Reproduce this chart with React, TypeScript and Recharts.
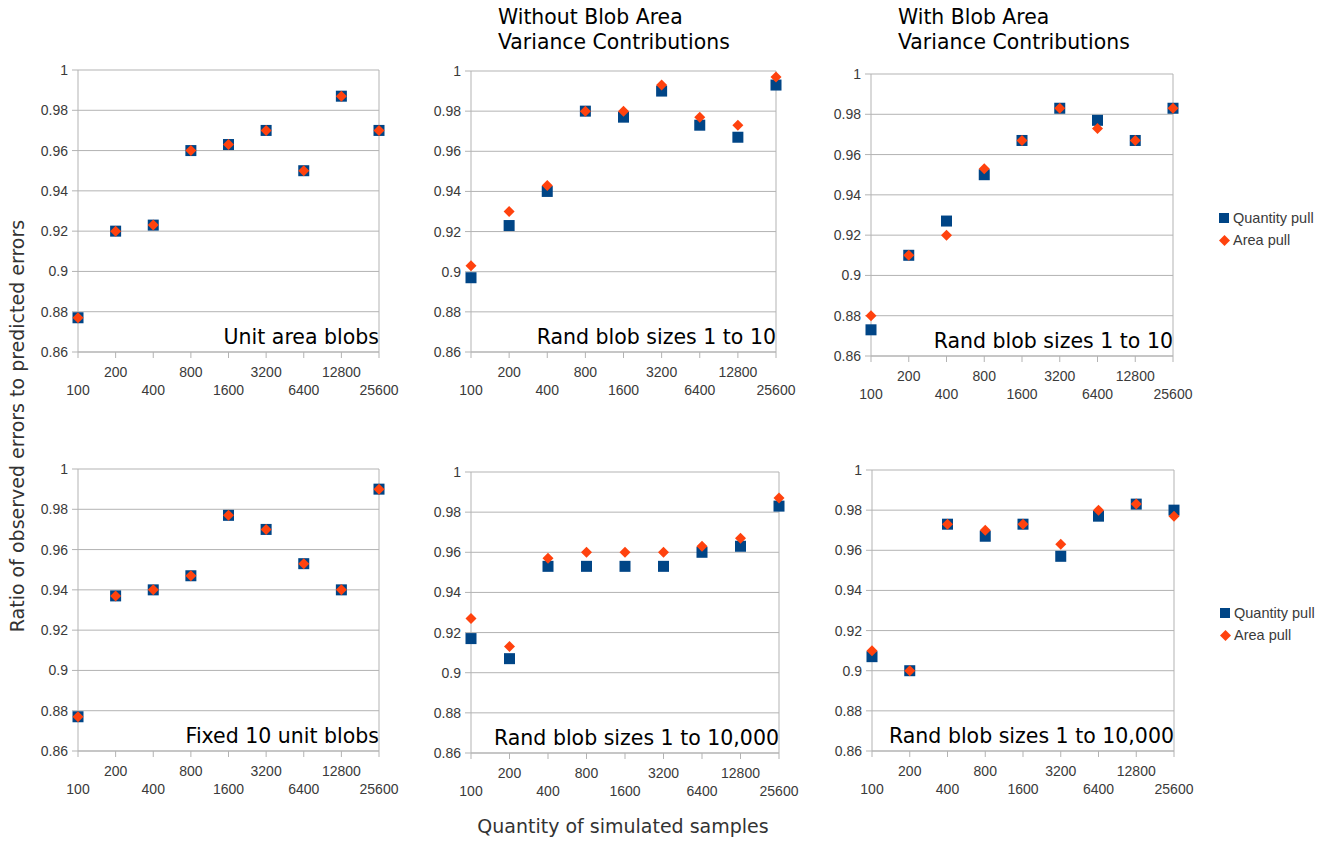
import { ScatterChart, Scatter, XAxis, YAxis, CartesianGrid, ReferenceLine } from "recharts";

const sampleSizes = ["100", "200", "400", "800", "1600", "3200", "6400", "12800", "25600"];
const yTicks = [0.86, 0.88, 0.9, 0.92, 0.94, 0.96, 0.98, 1];

const unitQuantity = [0.877, 0.92, 0.923, 0.96, 0.963, 0.97, 0.95, 0.987, 0.97];
const unitArea = [0.877, 0.92, 0.923, 0.96, 0.963, 0.97, 0.95, 0.987, 0.97];
const fixedQuantity = [0.877, 0.937, 0.94, 0.947, 0.977, 0.97, 0.953, 0.94, 0.99];
const fixedArea = [0.877, 0.937, 0.94, 0.947, 0.977, 0.97, 0.953, 0.94, 0.99];
const rand10NoVarQuantity = [0.897, 0.923, 0.94, 0.98, 0.977, 0.99, 0.973, 0.967, 0.993];
const rand10NoVarArea = [0.903, 0.93, 0.943, 0.98, 0.98, 0.993, 0.977, 0.973, 0.997];
const rand10VarQuantity = [0.873, 0.91, 0.927, 0.95, 0.967, 0.983, 0.977, 0.967, 0.983];
const rand10VarArea = [0.88, 0.91, 0.92, 0.953, 0.967, 0.983, 0.973, 0.967, 0.983];
const rand10kNoVarQuantity = [0.917, 0.907, 0.953, 0.953, 0.953, 0.953, 0.96, 0.963, 0.983];
const rand10kNoVarArea = [0.927, 0.913, 0.957, 0.96, 0.96, 0.96, 0.963, 0.967, 0.987];
const rand10kVarQuantity = [0.907, 0.9, 0.973, 0.967, 0.973, 0.957, 0.977, 0.983, 0.98];
const rand10kVarArea = [0.91, 0.9, 0.973, 0.97, 0.973, 0.963, 0.98, 0.983, 0.977];

const BLUE = "#004586";
const ORANGE = "#ff420e";
const GRID = "#b3b3b3";
const TICK_FONT = "'Liberation Sans', Arial, sans-serif";
const LABEL_FONT = "'DejaVu Sans', sans-serif";

const toPoints = (values: number[]) =>
  sampleSizes.map((label, i) => ({ i, label, v: values[i] }));

const SquareMark = (p: any) => (
  <rect x={p.cx - 5.5} y={p.cy - 5.5} width={11} height={11} fill={BLUE} />
);

const DiamondMark = (p: any) => (
  <polygon
    points={`${p.cx},${p.cy - 5.5} ${p.cx + 5.5},${p.cy} ${p.cx},${p.cy + 5.5} ${p.cx - 5.5},${p.cy}`}
    fill={ORANGE}
  />
);

const XTick = (p: any) => {
  const idx = p.payload.value;
  const upper = idx % 2 === 1;
  return (
    <text
      x={p.x}
      y={p.y + (upper ? 12 : 30)}
      textAnchor="middle"
      dominantBaseline="central"
      fontFamily={TICK_FONT}
      fontSize={14}
      fill="#3a3a3a"
    >
      {sampleSizes[idx]}
    </text>
  );
};

type PanelProps = {
  L: number;
  T: number;
  R: number;
  B: number;
  quantity: number[];
  area: number[];
  caption: string;
};

function Panel({ L, T, R, B, quantity, area, caption }: PanelProps) {
  const width = R - L + 50 + 30;
  const height = B - T + 60;
  return (
    <div style={{ position: "absolute", left: L - 50, top: T - 10, width, height }}>
      <ScatterChart width={width} height={height} margin={{ top: 10, right: 30, bottom: 5, left: 0 }}>
        <CartesianGrid vertical={false} stroke={GRID} />
        <XAxis
          type="number"
          dataKey="i"
          domain={[0, 8]}
          ticks={[0, 1, 2, 3, 4, 5, 6, 7, 8]}
          interval={0}
          height={45}
          stroke={GRID}
          tick={<XTick />}
        />
        <YAxis
          type="number"
          dataKey="v"
          domain={[0.86, 1]}
          ticks={yTicks}
          interval={0}
          width={50}
          stroke={GRID}
          tickMargin={4}
          tickFormatter={(v: number) => String(+v.toFixed(2))}
          tick={{ fontFamily: TICK_FONT, fontSize: 14, fill: "#3a3a3a" }}
        />
        <ReferenceLine x={8} stroke={GRID} />
        <Scatter data={toPoints(quantity)} shape={SquareMark} isAnimationActive={false} />
        <Scatter data={toPoints(area)} shape={DiamondMark} isAnimationActive={false} />
      </ScatterChart>
      <div
        style={{
          position: "absolute",
          right: 30,
          top: B - T + 10 - 25,
          fontFamily: LABEL_FONT,
          fontSize: 20.5,
          lineHeight: "20px",
          color: "#000",
          whiteSpace: "nowrap",
        }}
      >
        {caption}
      </div>
    </div>
  );
}

function LegendBox({ left, top }: { left: number; top: number }) {
  const row = { display: "flex", alignItems: "center", height: 22 } as const;
  const text = { fontFamily: TICK_FONT, fontSize: 14.5, color: "#3a3a3a", marginLeft: 3 } as const;
  return (
    <div style={{ position: "absolute", left, top }}>
      <div style={row}>
        <svg width={11} height={11}>
          <rect x={0} y={0} width={10} height={10} fill={BLUE} />
        </svg>
        <span style={text}>Quantity pull</span>
      </div>
      <div style={row}>
        <svg width={11} height={11}>
          <polygon points="5.5,0 11,5.5 5.5,11 0,5.5" fill={ORANGE} />
        </svg>
        <span style={text}>Area pull</span>
      </div>
    </div>
  );
}

const titleStyle = {
  position: "absolute",
  top: 5,
  fontFamily: LABEL_FONT,
  fontSize: 20.4,
  lineHeight: "25px",
  color: "#000",
  whiteSpace: "nowrap",
} as const;

export default function App() {
  return (
    <div
      style={{
        position: "absolute",
        left: 0,
        top: 0,
        width: 1327,
        height: 841,
        background: "#fff",
        overflow: "hidden",
      }}
    >
      <div style={{ ...titleStyle, left: 498 }}>
        Without Blob Area
        <br />
        Variance Contributions
      </div>
      <div style={{ ...titleStyle, left: 898 }}>
        With Blob Area
        <br />
        Variance Contributions
      </div>

      <Panel L={78} T={70} R={379} B={352} quantity={unitQuantity} area={unitArea} caption="Unit area blobs" />
      <Panel L={471} T={71} R={776} B={352} quantity={rand10NoVarQuantity} area={rand10NoVarArea} caption="Rand blob sizes 1 to 10" />
      <Panel L={871} T={74} R={1173} B={356} quantity={rand10VarQuantity} area={rand10VarArea} caption="Rand blob sizes 1 to 10" />
      <Panel L={78} T={469} R={379} B={751} quantity={fixedQuantity} area={fixedArea} caption="Fixed 10 unit blobs" />
      <Panel L={471} T={472} R={779} B={753} quantity={rand10kNoVarQuantity} area={rand10kNoVarArea} caption="Rand blob sizes 1 to 10,000" />
      <Panel L={872} T={470} R={1174} B={751} quantity={rand10kVarQuantity} area={rand10kVarArea} caption="Rand blob sizes 1 to 10,000" />

      <LegendBox left={1219} top={207} />
      <LegendBox left={1220} top={602} />

      <div
        style={{
          position: "absolute",
          left: 17 - 260,
          top: 426 - 12,
          width: 520,
          textAlign: "center",
          transform: "rotate(-90deg)",
          fontFamily: LABEL_FONT,
          fontSize: 19,
          lineHeight: "24px",
          color: "#333",
          whiteSpace: "nowrap",
        }}
      >
        Ratio of observed errors to predicted errors
      </div>
      <div
        style={{
          position: "absolute",
          left: 623 - 200,
          top: 814,
          width: 400,
          textAlign: "center",
          fontFamily: LABEL_FONT,
          fontSize: 19,
          lineHeight: "24px",
          color: "#333",
          whiteSpace: "nowrap",
        }}
      >
        Quantity of simulated samples
      </div>
    </div>
  );
}
